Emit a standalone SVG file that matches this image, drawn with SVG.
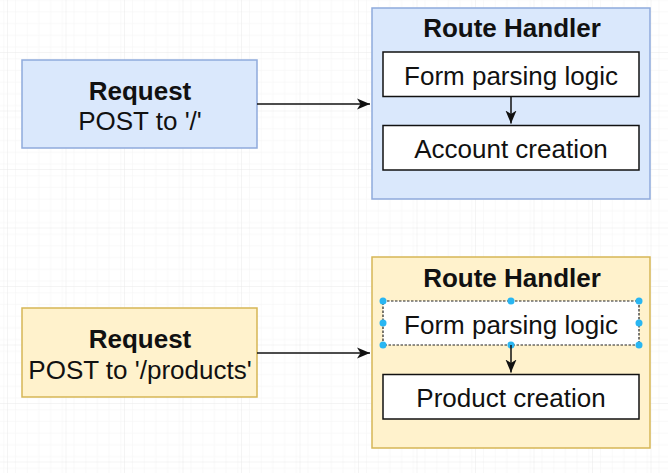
<svg xmlns="http://www.w3.org/2000/svg" width="668" height="473" viewBox="0 0 668 473">
<defs>
<pattern id="minor" width="11.7" height="11.7" patternUnits="userSpaceOnUse" x="8" y="-5.5">
<path d="M11.7 0V11.7M0 11.7H11.7" fill="none" stroke="#f4f4f4" stroke-width="1"/>
</pattern>
<pattern id="major" width="58.5" height="58.5" patternUnits="userSpaceOnUse" x="8" y="-5.5">
<rect width="58.5" height="58.5" fill="url(#minor)"/>
<path d="M58.5 0V58.5M0 58.5H58.5" fill="none" stroke="#e9e9e9" stroke-width="1"/>
</pattern>
<marker id="arr" viewBox="0 0 14 14" refX="13" refY="7" markerWidth="14" markerHeight="14" markerUnits="userSpaceOnUse" orient="auto">
<path d="M0 1.5 L13 7 L0 12.5 L3.5 7 Z" fill="#111"/>
</marker>
<style>
.t{font-family:"Liberation Sans",Arial,sans-serif;font-size:26px;fill:#111;text-anchor:middle}
.b{font-weight:bold}
.blue{fill:#dae8fc;stroke:#8faadc;stroke-width:1.5}
.yellow{fill:#fff2cc;stroke:#d6b656;stroke-width:1.5}
.inner{fill:#fff;stroke:#111;stroke-width:1.5}
.conn{fill:none;stroke:#111;stroke-width:1.5}
.h{fill:#29b6f2}
</style>
</defs>
<rect width="668" height="473" fill="#fff"/>
<rect width="668" height="473" fill="url(#major)"/>

<g id="request1">
<rect class="blue" x="22" y="60" width="235" height="88"/>
<text class="t b" x="140" y="100">Request</text>
<text class="t" x="140" y="130">POST to '/'</text>
</g>
<g id="handler1">
<rect class="blue" x="372" y="8" width="278" height="191"/>
<text class="t b" x="512" y="37">Route Handler</text>
</g>
<g id="form1">
<rect class="inner" x="383" y="52" width="256" height="44.5"/>
<text class="t" x="511" y="85">Form parsing logic</text>
</g>
<g id="account">
<rect class="inner" x="383" y="125.5" width="256" height="44.5"/>
<text class="t" x="511" y="158">Account creation</text>
</g>

<g id="request2">
<rect class="yellow" x="22" y="308" width="235" height="89"/>
<text class="t b" x="140" y="348">Request</text>
<text class="t" x="140" y="379">POST to '/products'</text>
</g>
<g id="handler2">
<rect class="yellow" x="372" y="257" width="278" height="191"/>
<text class="t b" x="512" y="287">Route Handler</text>
</g>
<g id="form2">
<rect x="383" y="301" width="256" height="44" fill="#fff" stroke="#222" stroke-width="1.2" stroke-dasharray="2.5 1.5"/>
<text class="t" x="511" y="334">Form parsing logic</text>
<circle class="h" cx="383" cy="301" r="3.5"/>
<circle class="h" cx="511" cy="301" r="3.5"/>
<circle class="h" cx="639" cy="301" r="3.5"/>
<circle class="h" cx="383" cy="323" r="3.5"/>
<circle class="h" cx="639" cy="323" r="3.5"/>
<circle class="h" cx="383" cy="345" r="3.5"/>
<circle class="h" cx="511" cy="345" r="3.5"/>
<circle class="h" cx="639" cy="345" r="3.5"/>
</g>
<g id="product">
<rect class="inner" x="383" y="374.5" width="256" height="44.5"/>
<text class="t" x="511" y="407">Product creation</text>
</g>

<g id="connectors">
<path class="conn" d="M257 104H370" marker-end="url(#arr)"/>
<path class="conn" d="M511 97V123.5" marker-end="url(#arr)"/>
<path class="conn" d="M257 353H370" marker-end="url(#arr)"/>
<path class="conn" d="M511 345V372.5" marker-end="url(#arr)"/>
</g>
</svg>
